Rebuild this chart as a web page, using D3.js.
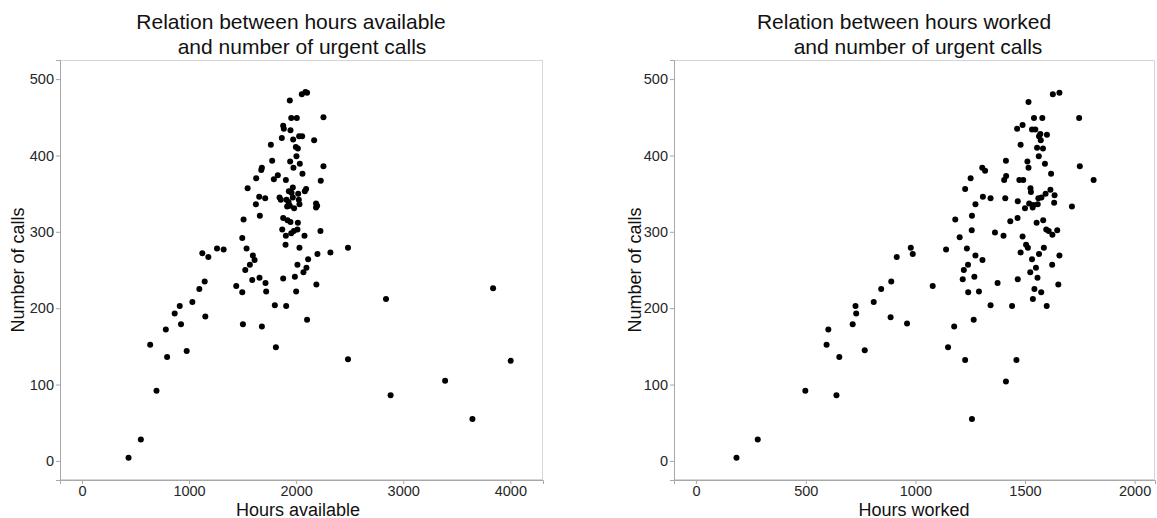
<!DOCTYPE html>
<html>
<head>
<meta charset="utf-8">
<script src="https://cdn.jsdelivr.net/npm/d3@7"></script>
<style>
  html, body { margin: 0; padding: 0; background: #fff; }
  svg { display: block; font-family: "Liberation Sans", Arial, sans-serif; }
</style>
</head>
<body>
<svg id="chart" width="1157" height="518"></svg>
<script>
// ---- data ----
const availHours = [435,550,696,637,795,783,978,866,913,925,1031,1096,1146,1152,1124,1180,1261,1323,1441,1497,1503,1497,1509,1547,1537,1525,1568,1596,1612,1590,1658,1680,1661,1655,1711,1624,1627,1674,1680,1714,1720,1776,1764,1792,1829,1801,1811,1845,1857,1866,1879,1885,1870,1879,1879,1904,1907,1910,1916,1901,1904,1919,1932,1941,1947,1954,1944,1929,1947,1954,1969,1957,1969,1975,1972,1981,1941,1978,1988,2000,2006,2003,1997,2016,2019,2016,2012,2012,2025,2031,2034,2028,2031,2056,2059,2053,2068,2087,2102,2078,2081,2093,2096,2112,2102,2168,2186,2196,2186,2189,2199,2227,2230,2255,2255,2320,2484,2484,2839,2882,3391,3646,3839,4003];
const availCalls = [4,28,92,152,136,172,144,193,203,179,208,225,235,189,272,267,278,277,229,221,179,292,316,357,278,250,257,269,263,237,240,176,321,346,344,336,370,381,384,233,222,393,414,369,374,204,149,345,342,423,439,435,303,318,239,368,203,342,333,283,295,315,353,472,433,449,392,339,313,298,358,351,345,384,421,331,334,301,241,222,449,399,411,409,350,312,303,257,342,336,389,425,279,425,376,480,247,483,482,295,353,356,253,264,185,420,337,334,332,231,271,301,367,386,450,273,279,133,212,86,105,55,226,131];

const workedHours = [184,281,498,640,595,603,653,714,727,730,769,810,844,887,890,915,962,979,988,1079,1140,1149,1177,1182,1202,1216,1221,1227,1227,1235,1240,1241,1252,1258,1257,1258,1266,1269,1274,1274,1290,1306,1308,1305,1318,1343,1343,1363,1375,1402,1405,1410,1414,1413,1413,1433,1441,1461,1464,1466,1467,1467,1480,1474,1480,1489,1489,1492,1500,1505,1511,1516,1516,1513,1519,1525,1527,1524,1532,1532,1535,1538,1536,1541,1543,1547,1550,1553,1558,1555,1557,1561,1563,1564,1564,1570,1572,1575,1574,1579,1582,1583,1586,1591,1594,1597,1600,1599,1608,1616,1619,1624,1625,1627,1633,1635,1647,1652,1657,1657,1714,1747,1750,1813];
const workedCalls = [4,28,92,86,152,172,136,179,203,193,145,208,225,188,235,267,180,279,271,229,277,149,176,316,293,238,250,356,132,278,257,221,370,321,302,55,185,241,269,336,222,263,346,384,380,344,204,299,233,295,368,344,373,393,104,314,203,132,435,318,340,238,414,368,273,440,294,368,331,283,392,470,384,279,337,357,352,247,434,264,332,335,212,449,225,434,253,312,336,410,240,344,399,271,425,428,420,345,221,449,409,315,279,389,350,303,427,203,301,355,376,257,296,480,338,348,302,231,269,482,333,449,386,368];

const availTicks = [0,1000,2000,3000,4000];
const workedTicks = [0,500,1000,1500,2000];
const callTicks = [0,100,200,300,400,500];

const titlesLeft = ["Relation between hours available", "and number of urgent calls"];
const titlesRight = ["Relation between hours worked", "and number of urgent calls"];
const xLabelLeft = "Hours available";
const xLabelRight = "Hours worked";
const yLabel = "Number of calls";

// ---- drawing ----
const svg = d3.select("#chart");

function panel(cfg) {
  const x = d3.scaleLinear().domain(cfg.xDomain).range([cfg.left, cfg.right]);
  const y = d3.scaleLinear().domain([-25, 525]).range([480, 60]);
  const g = svg.append("g");

  g.append("rect")
    .attr("x", cfg.left + 0.5).attr("y", 60.5)
    .attr("width", cfg.right - cfg.left - 1).attr("height", 419)
    .attr("fill", "#fff").attr("stroke", "#d6d6d6").attr("stroke-width", 1);

  const xAxis = g.append("g").attr("transform", "translate(0,480)")
    .call(d3.axisBottom(x).tickValues(cfg.xTicks).tickSize(4).tickPadding(2).tickFormat(d3.format("d")));
  const yAxis = g.append("g").attr("transform", `translate(${cfg.left},0)`)
    .call(d3.axisLeft(y).tickValues(callTicks).tickSize(4).tickPadding(2).tickFormat(d3.format("d")));
  [xAxis, yAxis].forEach(a => {
    a.select(".domain").attr("stroke", "#a8a8a8");
    a.selectAll(".tick line").attr("stroke", "#a8a8a8");
    a.selectAll(".tick text").attr("fill", "#262626")
      .style("font-family", '"Liberation Sans", Arial, sans-serif').style("font-size", "14.5px");
  });
  xAxis.selectAll(".tick text").attr("y", 5).attr("dy", "0.76em");

  g.append("g").selectAll("circle")
    .data(cfg.xs.map((d, i) => [d, cfg.ys[i]]))
    .join("circle")
    .attr("cx", d => x(d[0])).attr("cy", d => y(d[1]))
    .attr("r", 3).attr("fill", "#000");

  g.append("text").attr("x", cfg.t1x).attr("y", 29)
    .attr("text-anchor", "middle").attr("font-size", 21).attr("fill", "#111").text(cfg.titles[0]);
  g.append("text").attr("x", cfg.t2x).attr("y", 54)
    .attr("text-anchor", "middle").attr("font-size", 21).attr("fill", "#111").text(cfg.titles[1]);

  g.append("text").attr("x", cfg.xlx).attr("y", 515.5)
    .attr("text-anchor", "middle").attr("font-size", 18).attr("fill", "#111").text(cfg.xLabel);
  g.append("text").attr("transform", `translate(${cfg.ylx},270) rotate(-90)`)
    .attr("text-anchor", "middle").attr("font-size", 18).attr("fill", "#111").text(yLabel);
}

panel({ left: 60, right: 543, xDomain: [-205, 4305], xTicks: availTicks,
        xs: availHours, ys: availCalls, titles: titlesLeft, t1x: 291, t2x: 302,
        xLabel: xLabelLeft, xlx: 298, ylx: 24 });
panel({ left: 674, right: 1155, xDomain: [-101, 2093], xTicks: workedTicks,
        xs: workedHours, ys: workedCalls, titles: titlesRight, t1x: 904, t2x: 918,
        xLabel: xLabelRight, xlx: 914, ylx: 641 });
</script>
</body>
</html>
